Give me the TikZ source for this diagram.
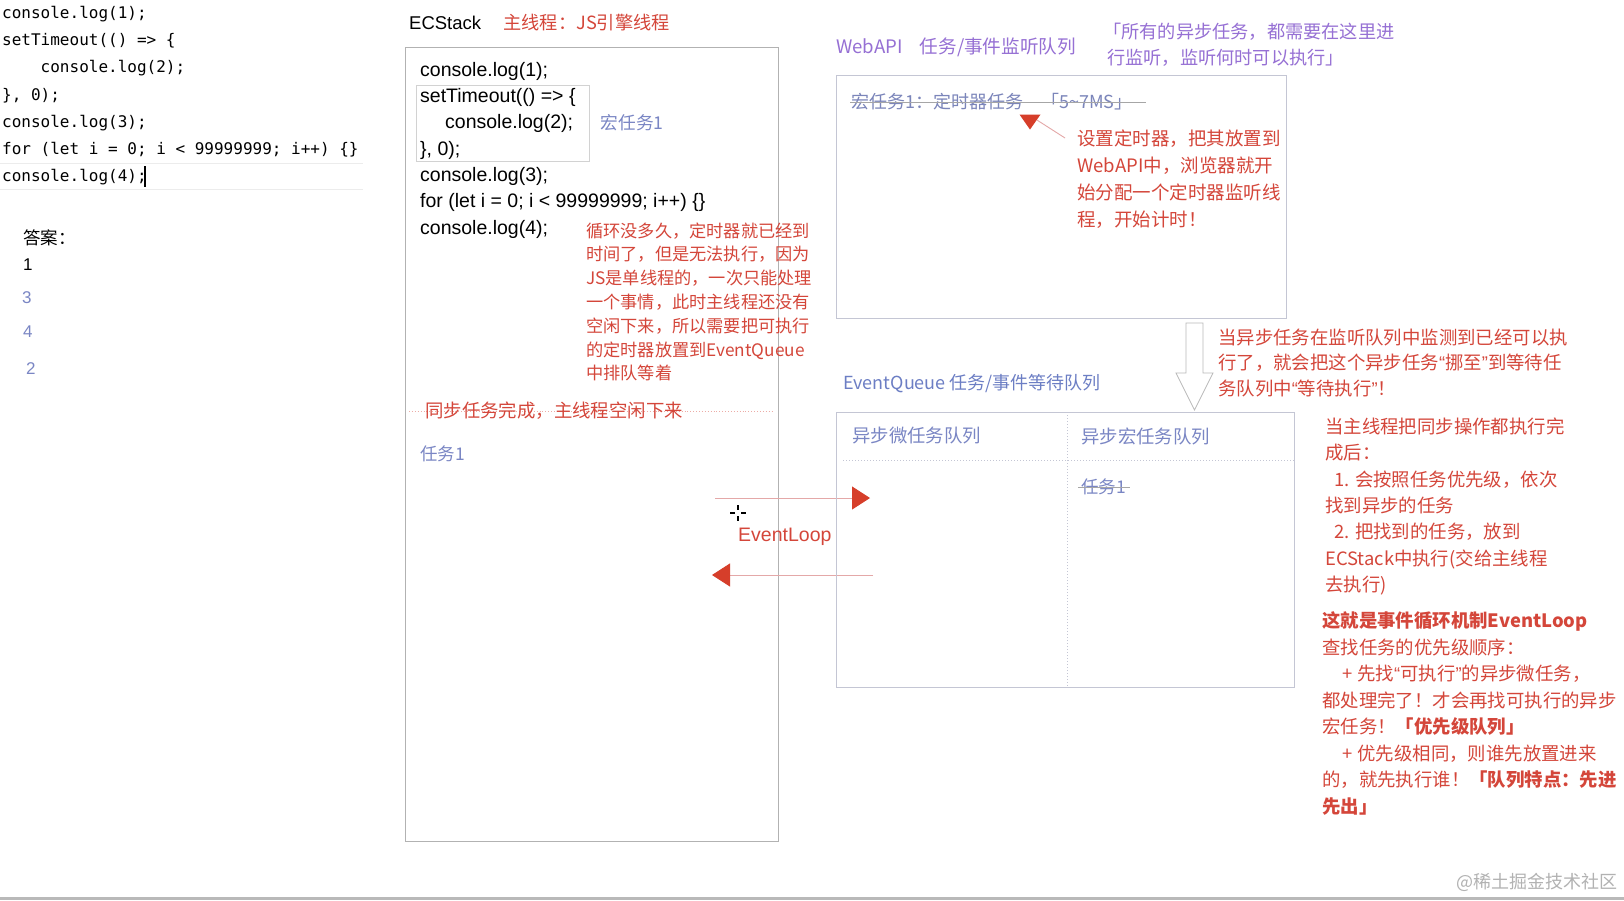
\documentclass[tikz,border=0pt]{standalone}
\usepackage{fontspec}
\setmainfont{Noto Sans CJK SC}
\newfontfamily\helv{Liberation Sans}
\setmonofont{DejaVu Sans Mono}
\usetikzlibrary{arrows.meta,positioning,shapes.geometric}
\definecolor{jsred}{RGB}{212,70,58}
\definecolor{taskblue}{RGB}{122,134,196}
\definecolor{apipurple}{RGB}{150,112,212}
\definecolor{queueblue}{RGB}{108,126,196}
\definecolor{boxgray}{RGB}{196,198,212}
\definecolor{tipred}{RGB}{214,62,42}
\definecolor{linepink}{RGB}{228,168,168}
\newcommand\fs[2]{\fontsize{#1}{#2}\selectfont}
\newcommand\openq{{\helv“}}
\newcommand\closeq{{\helv”}}

\begin{document}
\begin{tikzpicture}[x=1pt,y=-1pt,
  every node/.style={inner sep=0pt,align=left},
  note/.style={anchor=north west,text=jsred},
  tag/.style={anchor=west},
  frame/.style={draw=boxgray,line width=0.9pt},
  loop/.style={draw=linepink,line width=0.9pt,-{Triangle[length=18pt,width=23pt,color=tipred]}},
  strike/.style={draw=gray!70,line width=0.6pt}]
\useasboundingbox[fill=white] (0,0) rectangle (1624,900);

% source + answer
\node[anchor=north west,font=\ttfamily\fs{16}{27.3}] (codesrc) at (2,5.7)
  {console.log(1);\\setTimeout(() => \{\\\phantom{0000}console.log(2);\\\}, 0);\\console.log(3);\\for (let i = 0; i < 99999999; i++) \{\}\\console.log(4);};
\draw[gray!15] (0,163) -- (363,163) (0,189) -- (363,189);
\draw[black,line width=1.4pt] (145,166) -- (145,187);
\node[tag,font=\fs{17.5}{20}] (answer) at (23,238) {答案：};
\node[tag,font=\helv\fs{17}{20}] (ans1) at (23,265) {1};
\node[tag,font=\helv\fs{17}{20},text=taskblue] (ans3) at (22,298) {3};
\node[tag,font=\helv\fs{17}{20},text=taskblue] (ans4) at (23,332) {4};
\node[tag,font=\helv\fs{17}{20},text=taskblue] (ans2) at (26,369) {2};

% ECStack
\node[tag,font=\helv\fs{18.5}{20}] (ecslabel) at (409,23) {ECStack};
\node[tag,font=\fs{18.2}{20},text=jsred,right=22pt of ecslabel] (ecsthread) {主线程：JS引擎线程};
\node[frame,draw=gray!60,minimum width=373,minimum height=794] (ecstack) at (591.5,444) {};
\node[frame,draw=gray!35,minimum width=173,minimum height=76] (macrobox) at (502.5,123) {};
\node[anchor=north west,font=\helv\fs{19.5}{26.3}] (ecscode) at (420,62)
  {console.log(1);\\setTimeout(() => \{\\\hspace*{25pt}console.log(2);\\\}, 0);\\console.log(3);\\for (let i = 0; i < 99999999; i++) \{\}\\console.log(4);};
\node[tag,font=\fs{17.7}{20},text=taskblue,right=11pt of macrobox] (macrolabel) {宏任务1};
\node[note,font=\fs{17.2}{23.8}] (waitnote) at (586,222.3)
  {循环没多久，定时器就已经到\\时间了，但是无法执行，因为\\JS是单线程的，一次只能处理\\一个事情，此时主线程还没有\\空闲下来，所以需要把可执行\\的定时器放置到EventQueue\\中排队等着};
\coordinate (syncL) at (409,411);
\coordinate (syncR) at (772,411);
\draw[draw=jsred!45,dotted,line width=0.9pt] (syncL) -- (syncR);
\node[tag,font=\fs{18.4}{20},text=jsred] (syncdone) at (425,411) {同步任务完成，主线程空闲下来};
\node[tag,font=\fs{17.5}{20},text=taskblue] (ectask) at (420,454) {任务1};

% event loop
\coordinate (inA) at (715,498);
\coordinate (inB) at (870,498);
\coordinate (outA) at (873,575);
\coordinate (outB) at (712,575);
\draw[loop] (inA) -- (inB);
\draw[loop] (outA) -- (outB);
\node[tag,font=\helv\fs{19.5}{20},text=jsred] (looplabel) at (738,537) {EventLoop};
\draw[black,line width=1.3pt] (730,513) -- (735,513) (741,513) -- (746,513) (738,505) -- (738,510) (738,516) -- (738,521);

% WebAPI
\node[tag,font=\fs{18.6}{20},text=apipurple] (webapilabel) at (836,47) {WebAPI\hspace{17pt}任务/事件监听队列};
\node[anchor=north west,font=\fs{18.2}{26},text=apipurple] (webapinote) at (1103,22.8)
  {「所有的异步任务，都需要在这里进\\\hspace*{4pt}行监听，监听何时可以执行」};
\node[frame,minimum width=450,minimum height=243] (webapi) at (1061,196.5) {};
\node[tag,font=\fs{18}{20},text=taskblue!85!gray] (timertask) at (851,102) {宏任务1：定时器任务\hspace{18pt}「5\textasciitilde 7MS」};
\draw[strike] ([xshift=-1pt]timertask.west) -- ([xshift=13pt]timertask.east);
\node[isosceles triangle,shape border rotate=-90,isosceles triangle apex angle=70,fill=tipred,minimum height=15,minimum width=18] (timermark) at (1030,120) {};
\node[note,font=\fs{18.5}{27}] (timernote) at (1077,129.7)
  {设置定时器，把其放置到\\WebAPI中，浏览器就开\\始分配一个定时器监听线\\程，开始计时！};
\coordinate (ptr) at (1065,138);
\draw[linepink,line width=0.9pt] (ptr) -- (timermark.east);

% move to queue
\coordinate (movetop) at (1194.5,323);
\draw[gray!55,line width=0.8pt,fill=white] ([xshift=-8.5pt]movetop) -- ([xshift=8.5pt]movetop) -- ++(0,50) -- ++(10,0)
  -- (1194.5,410) -- (1176,373) -- ++(10,0) -- cycle;
\node[note,font=\fs{18.4}{25.5}] (movenote) at (1218,328.7)
  {当异步任务在监听队列中监测到已经可以执\\行了，就会把这个异步任务\openq 挪至\closeq 到等待任\\务队列中\openq 等待执行\closeq ！};

% EventQueue
\node[tag,font=\fs{18}{20},text=queueblue] (queuelabel) at (843,384) {EventQueue 任务/事件等待队列};
\node[frame,minimum width=458,minimum height=275] (queue) at (1065,549.5) {};
\draw[boxgray,dotted,line width=1pt] (1067,412) -- (1067,687);
\draw[boxgray,dotted,line width=1pt] (843,460) -- (1294,460);
\node[tag,font=\fs{18.4}{20},text=taskblue] (microhead) at (852,436) {异步微任务队列};
\node[tag,font=\fs{18.4}{20},text=taskblue] (macrohead) at (1081,436) {异步宏任务队列};
\node[tag,font=\fs{17.5}{20},text=taskblue] (queuetask) at (1081,487) {任务1};
\draw[strike] ([xshift=-3pt]queuetask.west) -- ([xshift=4pt]queuetask.east);

% rules
\node[note,font=\fs{18.4}{26.3}] (ruleA) at (1325,417.7)
  {当主线程把同步操作都执行完\\成后：\\\hspace*{9pt}1. 会按照任务优先级，依次\\找到异步的任务\\\hspace*{9pt}2. 把找到的任务，放到\\ECStack中执行(交给主线程\\去执行)};
\node[note,font=\fs{18.4}{26.5}] (ruleB) at (1322,611.7)
  {\textbf{这就是事件循环机制EventLoop}\\查找任务的优先级顺序：\\\hspace*{20pt}+\hspace{5pt}先找\openq 可执行\closeq 的异步微任务，\\都处理完了！才会再找可执行的异步\\宏任务！\textbf{「优先级队列」}\\\hspace*{20pt}+\hspace{5pt}优先级相同，则谁先放置进来\\的，就先执行谁！\textbf{「队列特点：先进}\\\textbf{先出」}};

\node[anchor=east,font=\fs{18}{20},text=gray!60] (watermark) at (1618,882) {@稀土掘金技术社区};
\fill[gray!55] (0,897) rectangle (1624,900);
\end{tikzpicture}
\end{document}
